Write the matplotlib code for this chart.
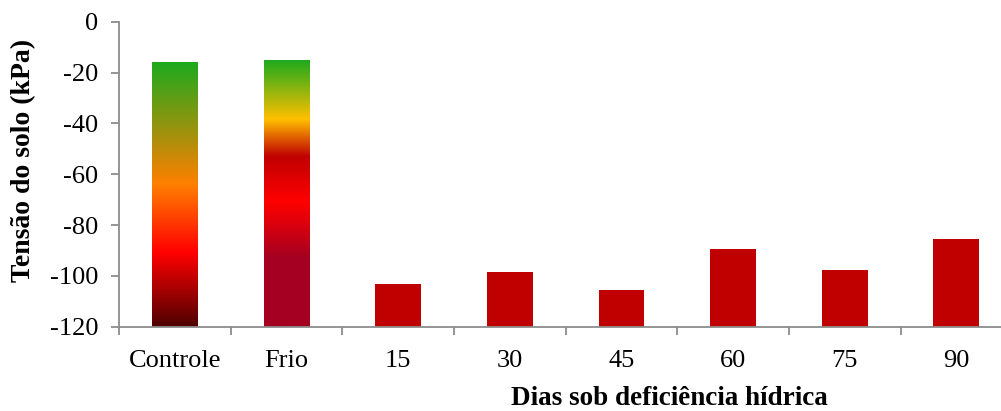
import numpy as np
import matplotlib
matplotlib.use("Agg")
import matplotlib.pyplot as plt
from matplotlib.colors import LinearSegmentedColormap

# Data
categorias = ['Controle', 'Frio', '15', '30', '45', '60', '75', '90']
tensao = [-16, -15, -103, -98.5, -105.5, -89.5, -97.5, -85.5]
base = -120

# gradient stops (top -> bottom) for the two reference bars
grad_controle = [(0.0, '#1EAA1E'), (0.46, '#FF8000'), (0.72, '#FF0000'), (1.0, '#4E0000')]
grad_frio = [(0.0, '#1EAA1E'), (0.22, '#FFC000'), (0.36, '#C00000'),
             (0.53, '#FF0000'), (0.74, '#A50021'), (1.0, '#A50021')]

plt.rcParams['font.family'] = ['Liberation Serif', 'DejaVu Serif']

fig = plt.figure(figsize=(10.01, 4.11), dpi=100)
ax = fig.add_axes([0.119, 0.205, 0.881, 0.742])

x = np.arange(len(categorias))
alturas = [v - base for v in tensao]
bars = ax.bar(x, alturas, bottom=base, width=0.41, color='#C00000', zorder=2)


def pinta_gradiente(bar, stops):
    cmap = LinearSegmentedColormap.from_list('g', stops)
    bar.set_facecolor('none')
    x0, y0 = bar.get_x(), bar.get_y()
    w, h = bar.get_width(), bar.get_height()
    grad = np.linspace(0, 1, 256).reshape(-1, 1)
    im = ax.imshow(grad, cmap=cmap, aspect='auto', origin='upper',
                   extent=[x0, x0 + w, y0, y0 + h], zorder=2)
    im.set_clip_path(bar)


pinta_gradiente(bars[0], grad_controle)
pinta_gradiente(bars[1], grad_frio)
ax.set_xlim(-0.5, 7.4)
ax.set_ylim(base, 0)

cinza = '#8C8C8C'
for s in ['top', 'right']:
    ax.spines[s].set_visible(False)
for s in ['left', 'bottom']:
    ax.spines[s].set_color(cinza)
    ax.spines[s].set_linewidth(1.3)
    ax.spines[s].set_zorder(3)

ax.set_yticks(np.arange(-120, 1, 20))
ax.set_yticklabels([str(v) for v in range(-120, 1, 20)])
ax.tick_params(axis='y', direction='out', length=6, width=1.3, color=cinza,
               labelsize=19, pad=9)

ax.set_xticks(x)
ax.set_xticklabels(categorias)
ax.set_xticks(np.arange(-0.5, 7.0, 1.0), minor=True)
ax.tick_params(axis='x', which='major', length=0, labelsize=19, pad=17)
ax.tick_params(axis='x', which='minor', direction='out', length=6, width=1.3, color=cinza)

fig.text(0.024, 1 - 160 / 411, 'Tensão do solo (kPa)', rotation=90, fontsize=20,
         fontweight='bold', ha='center', va='center')
fig.text(669 / 1001, 1 - 398 / 411, 'Dias sob deficiência hídrica', fontsize=19.5,
         fontweight='bold', ha='center', va='center')

fig.savefig('out.png', dpi=100, facecolor='white')
